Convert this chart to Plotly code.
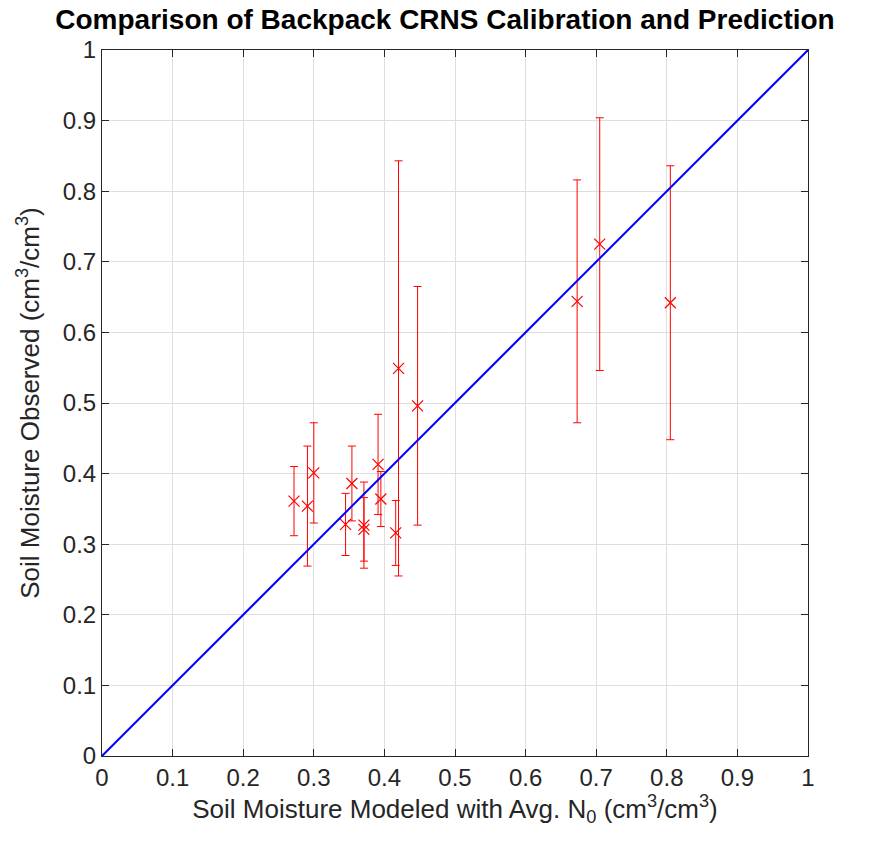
import plotly.graph_objects as go

modeled = [0.272, 0.291, 0.300, 0.345, 0.354, 0.371, 0.371, 0.391, 0.395, 0.416, 0.420, 0.447, 0.673, 0.705, 0.805]
observed = [0.361, 0.354, 0.401, 0.328, 0.386, 0.327, 0.321, 0.413, 0.364, 0.316, 0.549, 0.496, 0.644, 0.725, 0.642]
err = [0.049, 0.085, 0.071, 0.044, 0.053, 0.061, 0.045, 0.071, 0.039, 0.046, 0.294, 0.169, 0.172, 0.179, 0.194]
line_x = [0, 1]
line_y = [0, 1]
ticks = [0, 0.1, 0.2, 0.3, 0.4, 0.5, 0.6, 0.7, 0.8, 0.9, 1]
tick_text = ["0", "0.1", "0.2", "0.3", "0.4", "0.5", "0.6", "0.7", "0.8", "0.9", "1"]

fig = go.Figure()
fig.add_trace(go.Scatter(
    x=modeled, y=observed, mode="markers",
    marker=dict(symbol="x-thin-open", size=11, color="#ff0000", line=dict(color="#ff0000", width=1.2)),
    error_y=dict(type="data", array=err, visible=True, color="#ff0000", thickness=1, width=4),
    showlegend=False))
fig.add_trace(go.Scatter(x=line_x, y=line_y, mode="lines",
                         line=dict(color="#0000ff", width=2), showlegend=False))

font_family = "Liberation Sans, Arial, sans-serif"
axis_common = dict(
    range=[0, 1], tickvals=ticks, ticktext=tick_text,
    ticks="inside", ticklen=7, tickcolor="#262626", tickwidth=1,
    showline=True, linecolor="#262626", linewidth=1, mirror="ticks",
    showgrid=True, gridcolor="#dedede", gridwidth=1, zeroline=False,
    tickfont=dict(size=24, color="#262626", family=font_family),
    automargin=False,
)
fig.update_layout(
    width=890, height=844,
    margin=dict(l=102, r=82, t=50, b=88),
    paper_bgcolor="white", plot_bgcolor="white",
    title=dict(text="<b>Comparison of Backpack CRNS Calibration and Prediction</b>",
               x=0.5, xanchor="center", y=0.977, yanchor="middle",
               font=dict(size=28, color="black", family=font_family)),
    xaxis=dict(**axis_common,
               title=dict(text="Soil Moisture Modeled with Avg. N<sub>0</sub> (cm<sup>3</sup>/cm<sup>3</sup>)",
                          font=dict(size=26, color="#262626", family=font_family), standoff=2)),
    yaxis=dict(**axis_common,
               title=dict(text="Soil Moisture Observed (cm<sup>3</sup>/cm<sup>3</sup>)",
                          font=dict(size=26, color="#262626", family=font_family))),
)
fig.write_html("out.html")
